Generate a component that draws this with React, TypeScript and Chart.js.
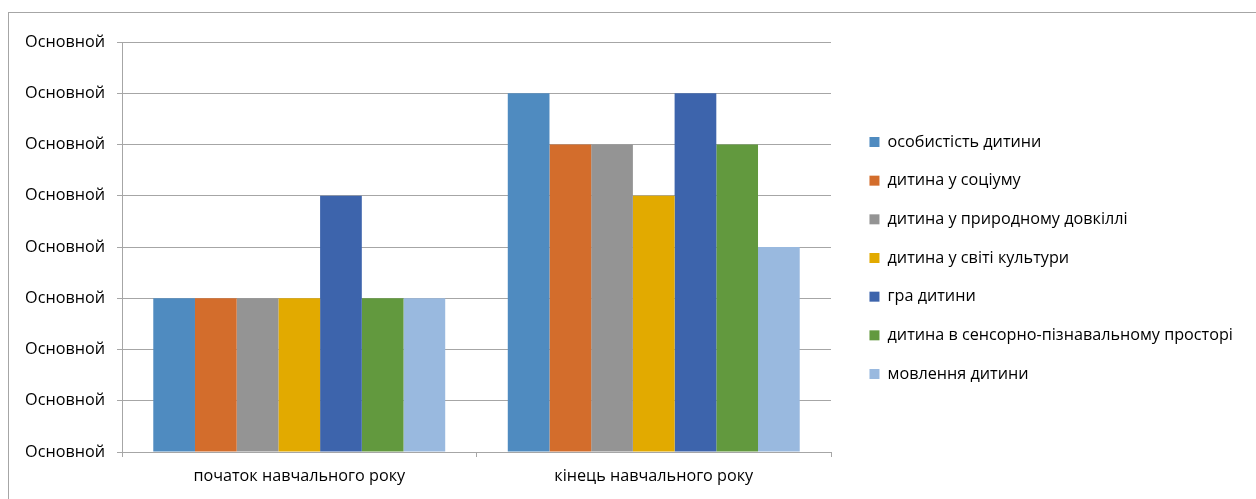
import React, { useEffect, useRef } from "react";
import { Chart, registerables } from "chart.js";

Chart.register(...registerables);

const categories = ["початок навчального року", "кінець навчального року"];

const seriesNames = [
  "особистість дитини",
  "дитина у соціуму",
  "дитина у природному довкіллі",
  "дитина у світі культури",
  "гра дитини",
  "дитина в сенсорно-пізнавальному просторі",
  "мовлення дитини",
];

const osobystist = [3, 7];
const sotsium = [3, 6];
const pryroda = [3, 6];
const kultura = [3, 5];
const hra = [5, 7];
const sensorna = [3, 6];
const movlennia = [3, 4];

const seriesValues = [osobystist, sotsium, pryroda, kultura, hra, sensorna, movlennia];

const seriesColors = [
  "#4F8BC0",
  "#D36D2C",
  "#949494",
  "#E2AA00",
  "#3D64AC",
  "#62993E",
  "#99B9DF",
];

const yTickLabels = [
  "Основной",
  "Основной",
  "Основной",
  "Основной",
  "Основной",
  "Основной",
  "Основной",
  "Основной",
  "Основной",
];

const FONT = "'Open Sans', 'Noto Sans', sans-serif";
const FONT_SIZE = 16.2;
const GRID = "#A6A6A6";

export default function App() {
  const canvasRef = useRef<HTMLCanvasElement | null>(null);

  useEffect(() => {
    if (!canvasRef.current) return;

    const legendPlacePlugin = {
      id: "legendPlace",
      beforeUpdate(chart: any) {
        const lg = chart.legend;
        if (lg && !lg.__patched) {
          const orig = lg.fit;
          lg.fit = function () {
            orig.call(this);
            this.width = 409;
          };
          lg.__patched = true;
        }
      },
      afterLayout(chart: any) {
        const lg = chart.legend;
        if (lg) {
          lg.top = 42;
          lg.bottom = 474;
          lg.height = lg.bottom - lg.top;
        }
      },
    };

    const chart = new Chart(canvasRef.current, {
      type: "bar",
      data: {
        labels: categories,
        datasets: seriesNames.map((name, i) => ({
          label: name,
          data: seriesValues[i],
          backgroundColor: seriesColors[i],
          borderWidth: 0,
          categoryPercentage: 7 / 8.5,
          barPercentage: 1,
        })),
      },
      options: {
        animation: false,
        responsive: false,
        devicePixelRatio: 1,
        layout: { padding: { left: 8, top: 42, right: 0, bottom: 0 } },
        plugins: {
          tooltip: { enabled: false },
          legend: {
            position: "right",
            align: "center",
            labels: {
              boxWidth: 10,
              boxHeight: 10,
              padding: 38.67 - FONT_SIZE,
              color: "#000000",
              font: { family: FONT, size: FONT_SIZE },
            },
          },
        },
        scales: {
          x: {
            grid: {
              display: true,
              drawOnChartArea: false,
              drawTicks: true,
              tickLength: 5,
              color: GRID,
              offset: true,
            },
            border: { display: true, color: GRID },
            ticks: {
              color: "#000000",
              padding: 10,
              font: { family: FONT, size: FONT_SIZE },
              maxRotation: 0,
            },
            afterFit: (s: any) => {
              s.height = 47;
            },
          },
          y: {
            min: 0,
            max: 8,
            grid: {
              color: GRID,
              drawTicks: true,
              tickLength: 5,
            },
            border: { display: true, color: GRID },
            ticks: {
              stepSize: 1,
              padding: 12,
              color: "#000000",
              font: { family: FONT, size: FONT_SIZE },
              callback: (_v: any, i: number) => yTickLabels[i],
            },
            afterFit: (s: any) => {
              s.width = 114;
            },
          },
          spacer: {
            type: "linear",
            position: "right",
            display: true,
            grid: { display: false, drawTicks: false },
            border: { display: false },
            ticks: { display: false },
            afterFit: (s: any) => {
              s.width = 16;
            },
          },
        },
      },
      plugins: [legendPlacePlugin],
    } as any);

    return () => chart.destroy();
  }, []);

  return (
    <div
      style={{
        position: "fixed",
        left: 0,
        top: 0,
        width: 1256,
        height: 499,
        overflow: "hidden",
        background: "#ffffff",
      }}
    >
      <div
        style={{
          position: "absolute",
          left: 8,
          top: 12,
          width: 1400,
          height: 700,
          border: "1px solid #A6A6A6",
        }}
      />
      <canvas
        ref={canvasRef}
        width={1256}
        height={499}
        style={{ position: "absolute", left: 0, top: 0, width: 1256, height: 499 }}
      />
    </div>
  );
}
